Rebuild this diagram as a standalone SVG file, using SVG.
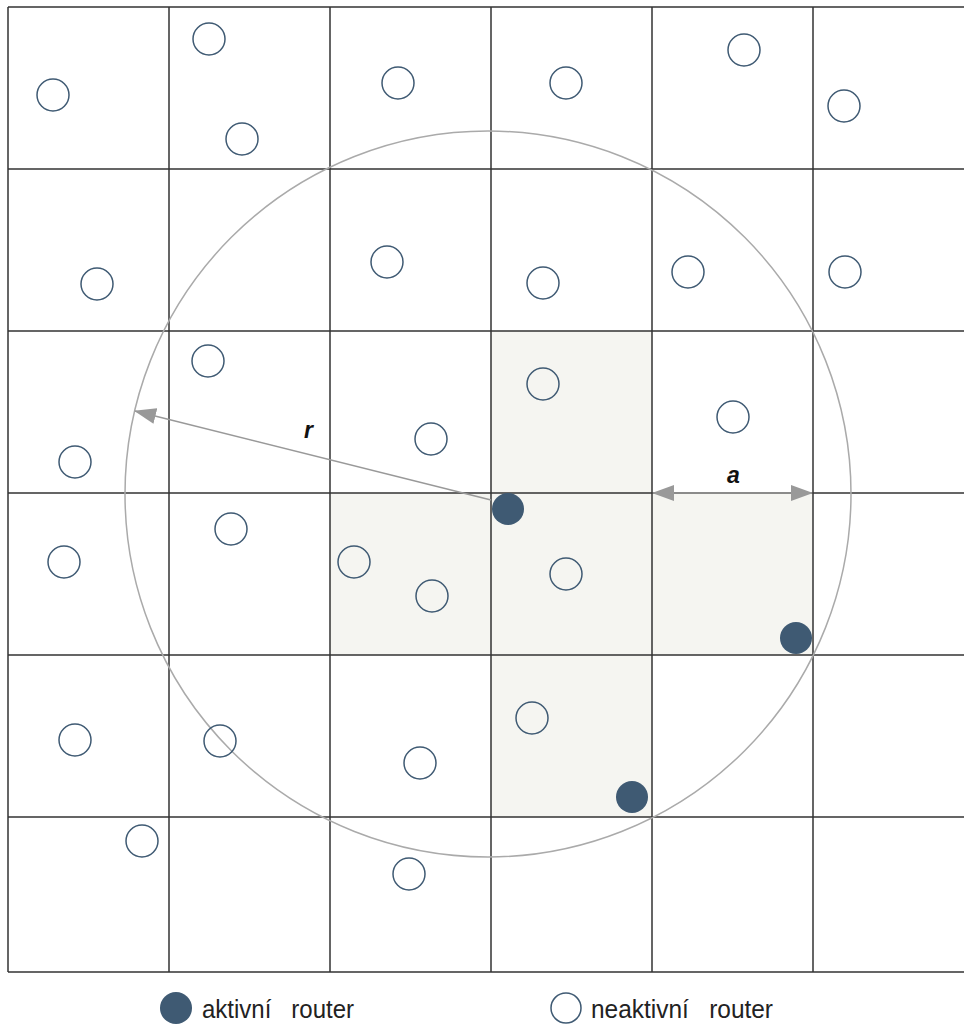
<svg xmlns="http://www.w3.org/2000/svg" width="964" height="1025" viewBox="0 0 964 1025">
<style>
.grid{stroke:#333;stroke-width:1.5;fill:none}
.shade{fill:#f5f5f1;stroke:none}
.off{fill:none;stroke:#3f5a73;stroke-width:1.5}
.on{fill:#3f5a73;stroke:none}
.conn{stroke:#999;stroke-width:1.5;fill:none}
.lbl{font-family:"Liberation Sans",Arial,sans-serif;font-weight:bold;font-style:italic;font-size:23px;fill:#111}
.leg{font-family:"Liberation Sans",Arial,sans-serif;font-size:25px;fill:#222}
</style>
<defs>
<marker id="ah2" markerWidth="22" markerHeight="16" refX="21" refY="8" orient="auto-start-reverse" markerUnits="userSpaceOnUse" viewBox="0 0 22 16">
<path d="M0,0 L22,8 L0,16 Z" fill="#999"/>
</marker>
</defs>
<rect width="964" height="1025" fill="#fff"/>
<g id="shading">
<rect class="shade" x="491" y="331" width="161" height="162"/>
<rect class="shade" x="330" y="493" width="483" height="162"/>
<rect class="shade" x="491" y="655" width="161" height="162"/>
</g>
<g id="grid">
<path class="grid" d="M8,7 H964 M8,169 H964 M8,331 H964 M8,493 H964 M8,655 H964 M8,817 H964 M8,972 H964 M8,7 V972 M169,7 V972 M330,7 V972 M491,7 V972 M652,7 V972 M813,7 V972"/>
</g>
<g id="range">
<circle cx="488" cy="494" r="363" fill="none" stroke="#aaa" stroke-width="1.5"/>
</g>
<g id="connectors">
<line class="conn" x1="491" y1="500" x2="135" y2="411" marker-end="url(#ah2)"/>
<line class="conn" x1="653" y1="493" x2="812" y2="493" marker-start="url(#ah2)" marker-end="url(#ah2)"/>
</g>
<g id="labels">
<text class="lbl" x="304" y="438">r</text>
<text class="lbl" x="727" y="483">a</text>
</g>
<g id="inactive">
<circle class="off" cx="53" cy="95" r="16"/>
<circle class="off" cx="209" cy="39" r="16"/>
<circle class="off" cx="242" cy="139" r="16"/>
<circle class="off" cx="398" cy="83" r="16"/>
<circle class="off" cx="566" cy="83" r="16"/>
<circle class="off" cx="744" cy="50" r="16"/>
<circle class="off" cx="844" cy="106" r="16"/>
<circle class="off" cx="97" cy="284" r="16"/>
<circle class="off" cx="387" cy="262" r="16"/>
<circle class="off" cx="543" cy="283" r="16"/>
<circle class="off" cx="688" cy="272" r="16"/>
<circle class="off" cx="845" cy="272" r="16"/>
<circle class="off" cx="208" cy="361" r="16"/>
<circle class="off" cx="543" cy="384" r="16"/>
<circle class="off" cx="733" cy="417" r="16"/>
<circle class="off" cx="75" cy="462" r="16"/>
<circle class="off" cx="431" cy="439" r="16"/>
<circle class="off" cx="231" cy="529" r="16"/>
<circle class="off" cx="64" cy="562" r="16"/>
<circle class="off" cx="354" cy="562" r="16"/>
<circle class="off" cx="432" cy="596" r="16"/>
<circle class="off" cx="566" cy="574" r="16"/>
<circle class="off" cx="75" cy="740" r="16"/>
<circle class="off" cx="220" cy="741" r="16"/>
<circle class="off" cx="532" cy="718" r="16"/>
<circle class="off" cx="420" cy="763" r="16"/>
<circle class="off" cx="142" cy="841" r="16"/>
<circle class="off" cx="409" cy="874" r="16"/>
</g>
<g id="active">
<circle class="on" cx="508" cy="509" r="16"/>
<circle class="on" cx="796" cy="638" r="16"/>
<circle class="on" cx="632" cy="797" r="16"/>
</g>
<g id="legend">
<circle class="on" cx="176" cy="1008" r="16"/>
<text class="leg" x="202" y="1018" xml:space="preserve" textLength="152" lengthAdjust="spacingAndGlyphs">aktivní   router</text>
<circle class="off" cx="566" cy="1008" r="15"/>
<text class="leg" x="591" y="1018" xml:space="preserve" textLength="182" lengthAdjust="spacingAndGlyphs">neaktivní   router</text>
</g>
</svg>
